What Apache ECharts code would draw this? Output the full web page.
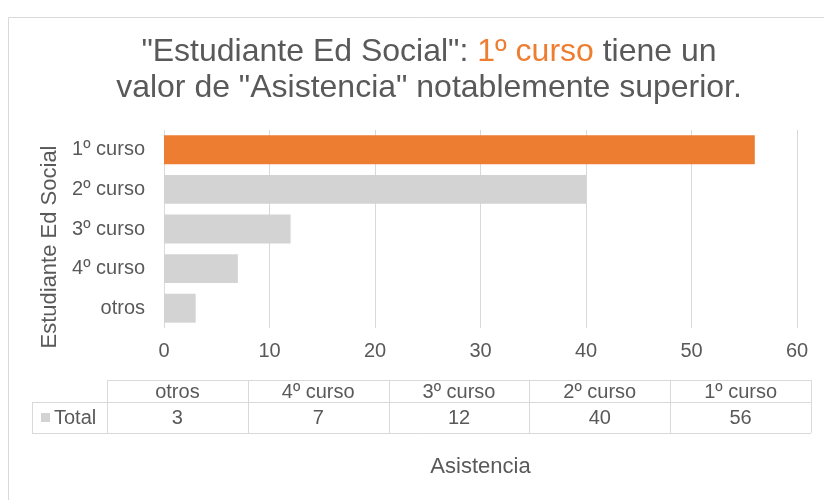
<!DOCTYPE html>
<html><head><meta charset="utf-8">
<script src="https://cdn.jsdelivr.net/npm/echarts@6/dist/echarts.min.js"></script>
<style>html,body{margin:0;padding:0;background:#fff}#c{width:824px;height:500px}</style>
</head><body><div id="c"></div>
<script>
var categories = ['otros', '4º curso', '3º curso', '2º curso', '1º curso'];
var values = [3, 7, 12, 40, 56];
var seriesName = 'Total';
var highlightCategory = '1º curso';
var xTicks = [0, 10, 20, 30, 40, 50, 60];
var titleLine1 = '"Estudiante Ed Social": ';
var titleHighlight = '1º curso';
var titleRest1 = ' tiene un';
var titleLine2 = 'valor de "Asistencia" notablemente superior.';
var yAxisTitle = 'Estudiante Ed Social';
var xAxisTitle = 'Asistencia';

var FONT = 'Liberation Sans, Arial, sans-serif';
var TXT = '#595959';
var ORANGE = '#ED7D31';
var GREY = '#D3D3D3';
var LINE = '#D9D9D9';

var chart = echarts.init(document.getElementById('c'));

// data table graphics
var tableLeft = 107, colW = 140.8, row1Top = 380, row1H = 22, row2H = 31;
var g = [];
g.push({type:'rect', shape:{x:8.5,y:17.5,width:900,height:600}, style:{fill:'none', stroke:LINE, lineWidth:1}, silent:true});
var tableRight = tableLeft + colW * categories.length;
g.push({type:'line', shape:{x1:tableLeft,y1:row1Top+0.5,x2:tableRight,y2:row1Top+0.5}, style:{stroke:LINE,lineWidth:1}});
g.push({type:'line', shape:{x1:32,y1:row1Top+row1H+0.5,x2:tableRight,y2:row1Top+row1H+0.5}, style:{stroke:LINE,lineWidth:1}});
g.push({type:'line', shape:{x1:32,y1:row1Top+row1H+row2H+0.5,x2:tableRight,y2:row1Top+row1H+row2H+0.5}, style:{stroke:LINE,lineWidth:1}});
g.push({type:'line', shape:{x1:32.5,y1:row1Top+row1H,x2:32.5,y2:row1Top+row1H+row2H}, style:{stroke:LINE,lineWidth:1}});
for (var i = 0; i <= categories.length; i++) {
  var x = Math.round(tableLeft + colW * i) + 0.5;
  g.push({type:'line', shape:{x1:x,y1:row1Top,x2:x,y2:row1Top+row1H+row2H}, style:{stroke:LINE,lineWidth:1}});
}
for (var i = 0; i < categories.length; i++) {
  var cx = tableLeft + colW * (i + 0.5);
  g.push({type:'text', x:cx, y:row1Top + row1H/2 + 1, style:{text:categories[i], fill:TXT, font:'20px ' + FONT, align:'center', verticalAlign:'middle'}});
  g.push({type:'text', x:cx, y:row1Top + row1H + row2H/2 + 1, style:{text:String(values[i]), fill:TXT, font:'20px ' + FONT, align:'center', verticalAlign:'middle'}});
}
g.push({type:'rect', shape:{x:41,y:413,width:9,height:9}, style:{fill:GREY}});
g.push({type:'text', x:54, y:row1Top + row1H + row2H/2 + 1, style:{text:seriesName, fill:TXT, font:'20px ' + FONT, align:'left', verticalAlign:'middle'}});

chart.setOption({
  animation: false,
  title: {
    text: titleLine1 + '{o|' + titleHighlight + '}' + titleRest1 + '\n' + titleLine2,
    left: 424, textAlign: 'center', top: 29,
    textStyle: {fontFamily: FONT, fontSize: 32, fontWeight: 'normal', color: TXT, lineHeight: 36,
      rich: {o: {color: ORANGE, fontFamily: FONT, fontSize: 32, lineHeight: 36}}}
  },
  grid: {left: 164, right: 27, top: 130, bottom: 172},
  xAxis: {
    type: 'value', min: 0, max: 60, interval: 10,
    axisLine: {show: false}, axisTick: {show: false},
    splitLine: {lineStyle: {color: LINE, width: 1}},
    axisLabel: {color: TXT, fontFamily: FONT, fontSize: 20, margin: 13},
    name: xAxisTitle, nameLocation: 'middle', nameGap: 128,
    nameTextStyle: {color: TXT, fontFamily: FONT, fontSize: 22}
  },
  yAxis: {
    type: 'category', data: categories,
    axisLine: {show: false}, axisTick: {show: false},
    axisLabel: {color: TXT, fontFamily: FONT, fontSize: 20, margin: 19},
    name: yAxisTitle, nameLocation: 'middle', nameGap: 101,
    nameTextStyle: {color: TXT, fontFamily: FONT, fontSize: 22, padding: [0, 36, 0, 0]}
  },
  series: [{
    type: 'bar', name: seriesName,
    barCategoryGap: '27%',
    data: values.map(function (v, i) {
      return {value: v, itemStyle: {color: categories[i] === highlightCategory ? ORANGE : GREY}};
    })
  }],
  graphic: g
});
</script></body></html>
